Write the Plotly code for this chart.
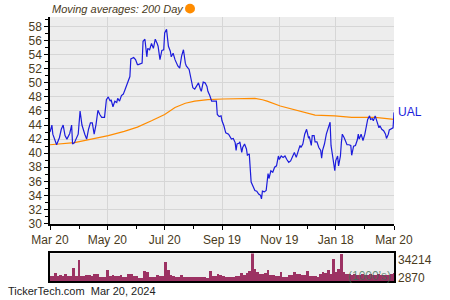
import plotly.graph_objects as go
import pandas as pd

# ---------------- data ----------------
price_dates = [
    "2023-03-20", "2023-03-22", "2023-03-23", "2023-03-27", "2023-03-30", "2023-04-01", "2023-04-03",
    "2023-04-05", "2023-04-07", "2023-04-10", "2023-04-12", "2023-04-13", "2023-04-15", "2023-04-17",
    "2023-04-19", "2023-04-21", "2023-04-22", "2023-04-23", "2023-04-26", "2023-04-28", "2023-04-30",
    "2023-05-02", "2023-05-04", "2023-05-06", "2023-05-08", "2023-05-10", "2023-05-12", "2023-05-14",
    "2023-05-17", "2023-05-19", "2023-05-21", "2023-05-23", "2023-05-24", "2023-05-26", "2023-05-28",
    "2023-05-30", "2023-05-31", "2023-06-02", "2023-06-04", "2023-06-06", "2023-06-08", "2023-06-11",
    "2023-06-13", "2023-06-14", "2023-06-17", "2023-06-19", "2023-06-21", "2023-06-22", "2023-06-26",
    "2023-06-27", "2023-06-29", "2023-07-01", "2023-07-02", "2023-07-04", "2023-07-06", "2023-07-08",
    "2023-07-10", "2023-07-12", "2023-07-13", "2023-07-15", "2023-07-17", "2023-07-19", "2023-07-20",
    "2023-07-22", "2023-07-24", "2023-07-26", "2023-07-27", "2023-07-29", "2023-07-31", "2023-08-03",
    "2023-08-05", "2023-08-07", "2023-08-09", "2023-08-11", "2023-08-12", "2023-08-15", "2023-08-17",
    "2023-08-19", "2023-08-21", "2023-08-23", "2023-08-25", "2023-08-27", "2023-08-28", "2023-08-30",
    "2023-09-01", "2023-09-03", "2023-09-04", "2023-09-06", "2023-09-08", "2023-09-11", "2023-09-13",
    "2023-09-14", "2023-09-16", "2023-09-18", "2023-09-19", "2023-09-21", "2023-09-23", "2023-09-26",
    "2023-09-29", "2023-10-01", "2023-10-03", "2023-10-04", "2023-10-05", "2023-10-07", "2023-10-08",
    "2023-10-10", "2023-10-11", "2023-10-13", "2023-10-15", "2023-10-16", "2023-10-18", "2023-10-20",
    "2023-10-23", "2023-10-24", "2023-10-26", "2023-10-28", "2023-10-30", "2023-10-31", "2023-11-01",
    "2023-11-03", "2023-11-05", "2023-11-07", "2023-11-08", "2023-11-10", "2023-11-12", "2023-11-14",
    "2023-11-16", "2023-11-18", "2023-11-19", "2023-11-21", "2023-11-23", "2023-11-25", "2023-11-27",
    "2023-11-29", "2023-12-01", "2023-12-03", "2023-12-05", "2023-12-07", "2023-12-09", "2023-12-11",
    "2023-12-12", "2023-12-14", "2023-12-16", "2023-12-18", "2023-12-20", "2023-12-21", "2023-12-23",
    "2023-12-24", "2023-12-26", "2023-12-27", "2023-12-29", "2023-12-31", "2024-01-02", "2024-01-03",
    "2024-01-04", "2024-01-06", "2024-01-08", "2024-01-10", "2024-01-12", "2024-01-13", "2024-01-14",
    "2024-01-15", "2024-01-17", "2024-01-18", "2024-01-20", "2024-01-21", "2024-01-23", "2024-01-24",
    "2024-01-25", "2024-01-27", "2024-01-29", "2024-01-30", "2024-02-01", "2024-02-03", "2024-02-04",
    "2024-02-06", "2024-02-08", "2024-02-10", "2024-02-11", "2024-02-12", "2024-02-14", "2024-02-16",
    "2024-02-18", "2024-02-19", "2024-02-21", "2024-02-23", "2024-02-24", "2024-02-26", "2024-02-27",
    "2024-02-29", "2024-03-02", "2024-03-04", "2024-03-05", "2024-03-07", "2024-03-09", "2024-03-11",
    "2024-03-12", "2024-03-14", "2024-03-15", "2024-03-17", "2024-03-19", "2024-03-20",
]
price_values = [
    43.0, 44.0, 42.7, 41.2, 42.2, 43.4, 44.0,
    42.5, 42.0, 42.8, 44.0, 41.3, 41.5, 42.0,
    42.7, 46.0, 44.4, 44.0, 42.7, 42.0, 43.4,
    44.3, 44.3, 42.7, 44.1, 46.1, 45.5, 45.1,
    45.1, 47.6, 48.0, 47.4, 47.6, 46.6, 47.4,
    47.2, 47.8, 47.4, 48.2, 48.4, 49.1, 50.2,
    50.9, 53.4, 53.6, 53.3, 52.6, 52.6, 52.8,
    55.9, 56.2, 53.7, 54.9, 54.7, 55.6, 54.9,
    56.2, 55.6, 55.2, 53.3, 54.6, 54.7, 57.1,
    57.6, 55.2, 54.5, 53.7, 54.2, 53.3, 52.4,
    52.1, 53.8, 54.7, 52.8, 52.4, 51.9, 50.7,
    49.3, 49.1, 49.5, 50.0, 49.1, 48.8, 50.1,
    50.0, 49.5, 48.8, 48.2, 47.4, 47.4, 47.4,
    45.5, 45.2, 45.3, 44.6, 43.9, 42.9, 42.7,
    42.0, 42.1, 41.5, 40.4, 41.3, 41.4, 41.6,
    40.1, 40.8, 41.3, 40.6, 39.7, 39.9, 35.9,
    34.9, 34.7, 34.6, 34.2, 34.0, 33.5, 34.6,
    34.5, 34.7, 37.1, 36.4, 37.5, 37.3, 38.0,
    38.2, 39.6, 39.1, 39.6, 39.4, 39.6, 39.1,
    38.7, 38.9, 39.4, 40.1, 39.4, 40.4, 41.1,
    40.8, 41.3, 42.7, 43.4, 42.2, 42.3, 41.1,
    42.5, 42.5, 41.6, 41.6, 40.8, 40.4, 39.3,
    40.4, 41.3, 42.7, 43.6, 44.4, 41.1, 40.1,
    39.6, 37.5, 38.9, 39.6, 38.2, 39.6, 41.5,
    42.7, 42.2, 41.4, 41.2, 41.2, 41.1, 39.7,
    41.0, 41.1, 41.9, 42.7, 42.0, 42.7, 41.8,
    42.7, 43.4, 44.8, 45.3, 44.8, 44.9, 44.6,
    45.3, 44.4, 43.6, 43.9, 43.4, 43.2, 42.7,
    42.1, 42.7, 43.3, 43.5, 43.6, 45.8,
]

ma_dates = [
    "2023-03-20", "2023-04-15", "2023-05-03", "2023-05-21", "2023-06-07", "2023-06-21", "2023-07-06",
    "2023-07-20", "2023-07-31", "2023-08-11", "2023-08-21", "2023-09-04", "2023-09-20", "2023-10-10",
    "2023-10-24", "2023-11-01", "2023-11-06", "2023-11-20", "2023-12-06", "2023-12-23", "2023-12-27",
    "2024-01-17", "2024-02-04", "2024-02-29", "2024-03-08", "2024-03-20",
]
ma_values = [
    41.2, 41.5, 42.0, 42.5, 43.1, 43.7, 44.6,
    45.5, 46.5, 47.1, 47.4, 47.6, 47.7, 47.8,
    47.8, 47.6, 47.4, 46.7, 46.1, 45.5, 45.4,
    45.3, 45.1, 45.1, 45.0, 44.8,
]

# volume in thousands, evenly spaced through the year
volume_values = [
    8465, 8465, 11490, 8465, 9600, 7680, 10000, 8465, 8465, 17080,
    7680, 26370, 8465, 7680, 9250, 9250, 8465, 10000, 10000, 6560,
    6560, 6560, 15180, 7680, 9250, 7680, 7680, 9250, 7300, 7300,
    10370, 10370, 7680, 7680, 5800, 5800, 14060, 12940, 7300, 7300,
    7300, 9250, 8465, 8465, 24130, 15180, 9250, 8465, 7300, 7300,
    9600, 7300, 7300, 6560, 6560, 6560, 7300, 7300, 7300, 7300,
    5800, 14060, 7680, 7680, 10800, 9250, 7680, 6560, 7300, 7300,
    7300, 8465, 8465, 11490, 9250, 11000, 14060, 34214, 15900, 12200,
    10370, 10370, 11490, 15180, 9600, 9600, 8465, 8465, 12200, 6560,
    6560, 9250, 9250, 12200, 10370, 10370, 9250, 9250, 14060, 8465,
    8465, 8465, 6560, 10370, 13000, 11490, 15180, 10370, 27800, 12200,
    16000, 32750, 13000, 10370, 10370, 9000, 9800, 8700, 9500, 10200,
    8900, 9300, 9900, 8800, 9600, 10400, 9100, 9500, 8800, 9700,
    10100, 11000,
]
volume_dates = pd.date_range("2023-03-20", "2024-03-20", periods=len(volume_values))

x_tick_vals = ["2023-03-20", "2023-05-20", "2023-07-20", "2023-09-19", "2023-11-19", "2024-01-18", "2024-03-20"]
x_tick_text = ["Mar 20", "May 20", "Jul 20", "Sep 19", "Nov 19", "Jan 18", "Mar 20"]
x_minor_vals = ["2023-04-20", "2023-06-20", "2023-08-20", "2023-10-19", "2023-12-19", "2024-02-18"]
vol_max, vol_min = 34214, 2870

# ---------------- styling ----------------
TXT = "#4a3b1c"
FONT = "Liberation Sans, Arial, sans-serif"
BG = "#ededed"
GRID = "#d6d6d6"

fig = go.Figure()
fig.add_trace(go.Scatter(x=ma_dates, y=ma_values, mode="lines",
                         line=dict(color="#ff8c00", width=1.2), xaxis="x", yaxis="y",
                         hoverinfo="skip"))
fig.add_trace(go.Scatter(x=price_dates, y=price_values, mode="lines",
                         line=dict(color="#1c1cdc", width=1.2), xaxis="x", yaxis="y"))
bar_w = (volume_dates[-1] - volume_dates[0]).total_seconds() * 1000 / (len(volume_values) - 1)
fig.add_trace(go.Bar(x=volume_dates, y=volume_values, marker=dict(color="#9c3263", line=dict(width=0)),
                     width=bar_w * 1.05, xaxis="x2", yaxis="y2"))

fig.update_layout(
    width=450, height=300,
    margin=dict(l=50, r=56, t=17, b=15),
    paper_bgcolor="white", plot_bgcolor=BG,
    showlegend=False, bargap=0,
    font=dict(family=FONT, size=12, color=TXT),
    xaxis=dict(
        domain=[0, 1], anchor="y", type="date",
        range=["2023-03-20", "2024-03-20"],
        tickmode="array", tickvals=x_tick_vals, ticktext=x_tick_text,
        ticks="outside", ticklen=4, tickcolor="black",
        showgrid=True, gridcolor=GRID, gridwidth=1,
        showline=True, linecolor="black", linewidth=1.5,
        minor=dict(tickmode="array", tickvals=x_minor_vals, ticks="outside", ticklen=3,
                   tickcolor="black", showgrid=False),
        tickfont=dict(size=12, color=TXT), zeroline=False,
    ),
    yaxis=dict(
        domain=[(285 - 227) / 268, 1], anchor="x",
        range=[29.95, 59.36],
        tickmode="linear", tick0=30, dtick=2,
        ticks="outside", ticklen=4, tickcolor="black",
        showgrid=True, gridcolor=GRID, gridwidth=1,
        showline=True, linecolor="black", linewidth=1.5,
        minor=dict(dtick=1, tick0=30, ticks="outside", ticklen=3, tickcolor="black", showgrid=False),
        tickfont=dict(size=12, color=TXT), zeroline=False,
    ),
    xaxis2=dict(
        domain=[0, 1], anchor="y2", type="date",
        range=["2023-03-20", "2024-03-20"],
        showticklabels=False, ticks="", showgrid=False,
        showline=True, mirror=True, linecolor="black", linewidth=1.5, zeroline=False,
    ),
    yaxis2=dict(
        domain=[0, 28 / 268], anchor="x2",
        range=[vol_min, vol_max],
        showticklabels=False, ticks="", showgrid=False,
        showline=True, mirror=True, linecolor="black", linewidth=1.5, zeroline=False,
    ),
)

annotations = [
    dict(text="<i>Moving averages: 200 Day</i>", xref="paper", yref="paper",
         x=0, y=(285 - 9) / 268, xanchor="left", yanchor="middle", showarrow=False,
         font=dict(size=11, color=TXT)),
    dict(text="UAL", xref="x", yref="y", x=price_dates[-1], y=price_values[-1],
         xanchor="left", yanchor="middle", xshift=2, showarrow=False,
         font=dict(size=12, color="#1c1cdc")),
    dict(text=str(vol_max), xref="paper", yref="paper", x=(396 - 50) / 344, y=(285 - 264) / 268,
         xanchor="left", yanchor="middle", showarrow=False, font=dict(size=12, color=TXT)),
    dict(text=str(vol_min), xref="paper", yref="paper", x=(396 - 50) / 344, y=(285 - 281.5) / 268,
         xanchor="left", yanchor="middle", showarrow=False, font=dict(size=12, color=TXT)),
    dict(text="(1000's)", xref="paper", yref="paper", x=(393 - 50) / 344, y=(285 - 280) / 268,
         xanchor="right", yanchor="middle", showarrow=False,
         font=dict(size=12, color="rgba(60,110,85,0.75)")),
    dict(text="TickerTech.com  Mar 20, 2024", xref="paper", yref="paper",
         x=(6 - 50) / 344, y=(285 - 295) / 268, xanchor="left", yanchor="middle",
         showarrow=False, font=dict(size=11, color="#222222")),
]
fig.update_layout(annotations=annotations)

cx, cy, r = (190 - 50) / 344, (285 - 8.5) / 268, 5
fig.add_shape(type="circle", xref="paper", yref="paper",
              x0=cx - r / 344, x1=cx + r / 344, y0=cy - r / 268, y1=cy + r / 268,
              fillcolor="#ff8c00", line=dict(width=0))

fig.write_html("out.html")
